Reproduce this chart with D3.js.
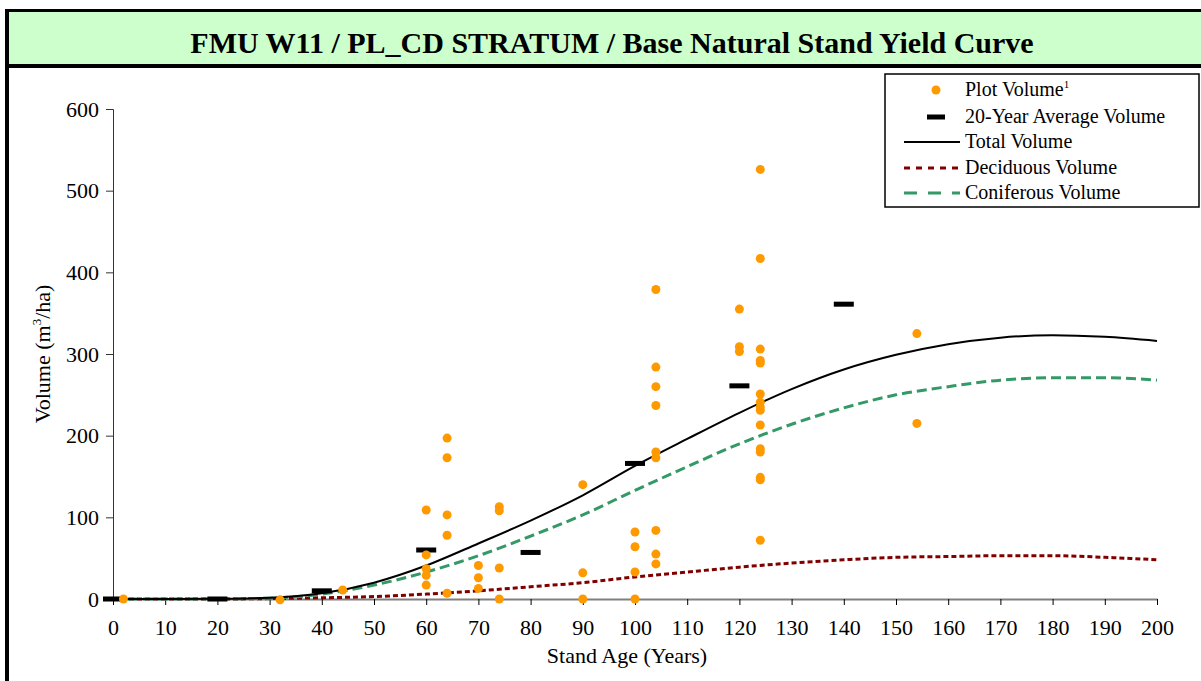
<!DOCTYPE html>
<meta charset="utf-8">
<style>
  body { margin: 0; background: #fff; }
</style>
<body>
<div id="chart"></div>
<script src="https://d3js.org/d3.v7.min.js"></script>
<script>

  // plot volumes (age, volume)
  const plotAges = [2, 32, 44,
    60, 60, 60, 60, 60,
    64, 64, 64, 64, 64,
    70, 70, 70,
    74, 74, 74, 74,
    90, 90, 90,
    100, 100, 100, 100,
    104, 104, 104, 104, 104, 104, 104, 104, 104,
    120, 120, 120,
    124, 124, 124, 124, 124, 124, 124, 124, 124, 124, 124, 124, 124, 124, 124,
    154, 154];
  const plotVolumes = [0, -1, 11,
    109, 54, 37, 29, 17,
    197, 173, 103, 78, 7,
    41, 26, 13,
    113, 108, 38, 0,
    140, 32, 0,
    82, 64, 33, 0,
    379, 284, 260, 237, 180, 173, 84, 55, 43,
    355, 309, 303,
    526, 417, 306, 292, 289, 251, 241, 235, 231, 213, 184, 180, 149, 146, 72,
    325, 215];

  // 20-year averages
  const avgAges = [0, 20, 40, 60, 80, 100, 120, 140];
  const avgVolumes = [0, 0, 10, 60, 57, 166, 261, 361];

  // yield curves
  const curveAges = [0, 10, 20, 30, 40, 50, 60, 70, 80, 90, 100, 110, 120, 130, 140, 150, 160, 170, 180, 190, 200];
  const totalVolume = [0, 0, 0.2, 1.5, 7, 20, 41, 68, 96, 127, 163, 196, 228, 257, 281, 299, 312, 320, 323, 321, 316];
  const coniferousVolume = [0, 0, 0.2, 1, 6, 17, 33, 53, 77, 103, 133, 162, 190, 214, 234, 250, 260, 268, 271, 271, 268];
  const deciduousVolume = [0, 0, 0, 0.5, 1.5, 3, 6, 10, 15, 20, 27, 33, 39, 44, 48, 51, 52, 53, 53, 51, 48];

  const xTicks = d3.range(0, 201, 10);
  const yTicks = [0, 100, 200, 300, 400, 500, 600];

  const FONT = "'Liberation Serif', 'Times New Roman', Times, serif";
  const W = 1201, H = 681;
  const svg = d3.select("#chart").append("svg").attr("width", W).attr("height", H)
    .style("display", "block");

  // frame + title band
  svg.append("rect").attr("x", 9).attr("y", 12).attr("width", W - 9).attr("height", 52).attr("fill", "#ccffcc");
  svg.append("rect").attr("x", 5).attr("y", 9).attr("width", W - 5).attr("height", 3).attr("fill", "#000");
  svg.append("rect").attr("x", 5).attr("y", 64).attr("width", W - 5).attr("height", 4).attr("fill", "#000");
  svg.append("rect").attr("x", 5).attr("y", 9).attr("width", 4).attr("height", H - 9).attr("fill", "#000");

  svg.append("text")
    .attr("x", 612).attr("y", 53)
    .attr("text-anchor", "middle")
    .attr("font-size", 30).attr("font-weight", "bold")
    .style("font-family", FONT)
    .text("FMU W11 / PL_CD STRATUM / Base Natural Stand Yield Curve");

  const x = d3.scaleLinear().domain([0, 200]).range([113, 1157]);
  const y = d3.scaleLinear().domain([0, 600]).range([599, 109]);

  // y axis
  const yAxis = svg.append("g").attr("transform", "translate(113,0)")
    .call(d3.axisLeft(y).tickValues(yTicks).tickSize(7).tickPadding(7));
  yAxis.select(".domain").attr("stroke", "#333");
  yAxis.selectAll("line").attr("stroke", "#333");
  yAxis.selectAll("text").attr("font-size", 22).style("font-family", FONT).attr("fill", "#000");

  // x axis
  const xAxis = svg.append("g").attr("transform", "translate(0,599)")
    .call(d3.axisBottom(x).tickValues(xTicks).tickSize(6).tickPadding(14).tickSizeOuter(0));
  xAxis.select(".domain").attr("stroke", "#808080").attr("stroke-width", 2);
  xAxis.selectAll("line").attr("stroke", "#000");
  xAxis.selectAll("text").attr("font-size", 22).style("font-family", FONT).attr("fill", "#000");

  svg.append("text")
    .attr("x", 627).attr("y", 663)
    .attr("text-anchor", "middle").attr("font-size", 22)
    .style("font-family", FONT)
    .text("Stand Age (Years)");

  const yl = svg.append("text")
    .attr("transform", "translate(50,354) rotate(-90)")
    .attr("text-anchor", "middle").attr("font-size", 22)
    .style("font-family", FONT);
  yl.append("tspan").text("Volume (m");
  yl.append("tspan").attr("font-size", 13).attr("dy", -9).text("3");
  yl.append("tspan").attr("dy", 9).text("/ha)");

  // curves
  const line = vals => d3.line()
    .x((d, i) => x(curveAges[i]))
    .y(d => y(d))
    .curve(d3.curveMonotoneX)(vals);

  svg.append("path").attr("d", line(deciduousVolume))
    .attr("fill", "none").attr("stroke", "#800000").attr("stroke-width", 3).attr("stroke-dasharray", "5,3");
  svg.append("path").attr("d", line(coniferousVolume))
    .attr("fill", "none").attr("stroke", "#339966").attr("stroke-width", 3).attr("stroke-dasharray", "10,5");
  svg.append("path").attr("d", line(totalVolume))
    .attr("fill", "none").attr("stroke", "#000").attr("stroke-width", 2);

  // 20-year averages
  svg.selectAll(".avg").data(avgAges).enter().append("rect")
    .attr("class", "avg")
    .attr("x", d => x(d) - 10).attr("y", (d, i) => y(avgVolumes[i]) - 2.5)
    .attr("width", 20).attr("height", 5).attr("fill", "#000");

  // plot points
  svg.selectAll(".pt").data(plotAges).enter().append("circle")
    .attr("class", "pt")
    .attr("cx", d => x(d)).attr("cy", (d, i) => y(plotVolumes[i]))
    .attr("r", 4.5).attr("fill", "#ff9900");

  // legend
  const lg = svg.append("g");
  lg.append("rect").attr("x", 885).attr("y", 74).attr("width", 314).attr("height", 133)
    .attr("fill", "#fff").attr("stroke", "#000").attr("stroke-width", 1.5);
  const rows = [90, 117, 142, 168, 193];
  lg.append("circle").attr("cx", 936).attr("cy", rows[0]).attr("r", 4.5).attr("fill", "#ff9900");
  lg.append("rect").attr("x", 927).attr("y", rows[1] - 2.5).attr("width", 18).attr("height", 5).attr("fill", "#000");
  lg.append("line").attr("x1", 904).attr("x2", 960).attr("y1", rows[2]).attr("y2", rows[2])
    .attr("stroke", "#000").attr("stroke-width", 2);
  lg.append("line").attr("x1", 904).attr("x2", 960).attr("y1", rows[3]).attr("y2", rows[3])
    .attr("stroke", "#800000").attr("stroke-width", 3).attr("stroke-dasharray", "6,6");
  lg.append("line").attr("x1", 904).attr("x2", 960).attr("y1", rows[4]).attr("y2", rows[4])
    .attr("stroke", "#339966").attr("stroke-width", 3).attr("stroke-dasharray", "13,11");

  const labels = ["Plot Volume", "20-Year Average Volume", "Total Volume", "Deciduous Volume", "Coniferous Volume"];
  labels.forEach((t, i) => {
    const tx = lg.append("text").attr("x", 965).attr("y", rows[i] + 6).attr("font-size", 20)
      .style("font-family", FONT).text(t);
    if (i === 0) tx.append("tspan").attr("font-size", 11).attr("dy", -8).text("1");
  });

</script>
</body>
